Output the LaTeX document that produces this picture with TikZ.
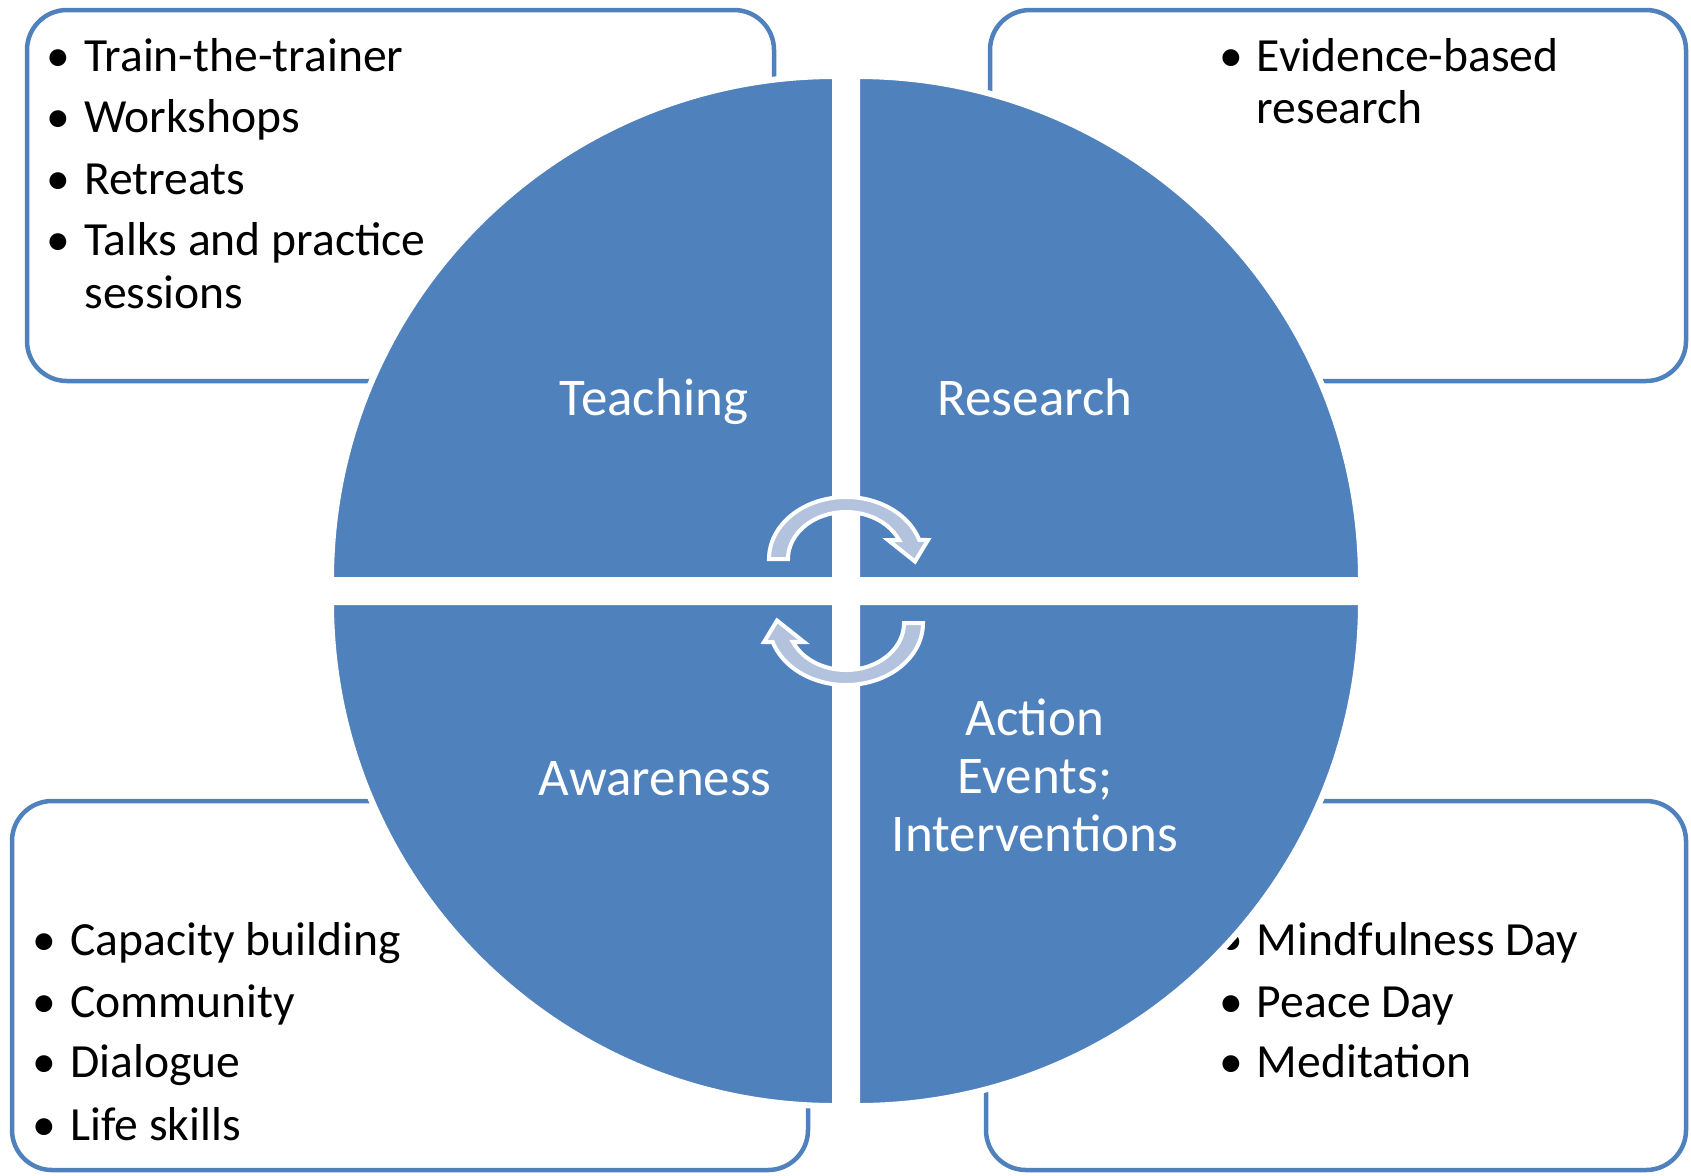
\documentclass[tikz,border=0pt]{standalone}
\usepackage{fontspec}
\setmainfont{Carlito}
\definecolor{pieblue}{HTML}{4F81BD}
\definecolor{arrowfill}{HTML}{B3C3DE}
\tikzset{
  box/.style={draw=pieblue, line width=2.25pt, fill=white, rounded corners=20pt},
  pie/.style={fill=pieblue, draw=white, line width=3pt},
  btxt/.style={anchor=base west, inner sep=0pt, text=black, font=\fontsize{23.8pt}{28pt}\selectfont},
  bdot/.style={anchor=base, inner sep=0pt, text=black, font=\fontsize{23.8pt}{28pt}\selectfont},
  lbl/.style={anchor=base, inner sep=0pt, text=white, font=\fontsize{26.5pt}{30pt}\selectfont},
  cyc/.style={fill=arrowfill, draw=white, line width=2pt, line join=miter}
}
\begin{document}
\begin{tikzpicture}[x=0.5pt,y=-0.5pt]
\useasboundingbox[fill=white] (0,0) rectangle (1691,1175);
% side boxes
\path[box] (27,10) rectangle (774,381);
\path[box] (990,10) rectangle (1686,381);
\path[box] (12,801) rectangle (808,1170);
\path[box] (986,801) rectangle (1686,1170);
% top-left list
\node[bdot] (tlb1) at (58,71.7) {•};
\node[btxt] (tlt1) at (84,71.7) {Train-the-trainer};
\node[bdot] (tlb2) at (58,132.7) {•};
\node[btxt] (tlt2) at (84,132.7) {Workshops};
\node[bdot] (tlb3) at (58,194.3) {•};
\node[btxt] (tlt3) at (84,194.3) {Retreats};
\node[bdot] (tlb4) at (58,255) {•};
\node[btxt] (tlt4) at (84,255) {Talks and practice};
\node[btxt] (tlt5) at (84,308.3) {sessions};
% top-right list
\node[bdot] (trb1) at (1231.5,71.7) {•};
\node[btxt] (trt1) at (1256.5,71.7) {Evidence-based};
\node[btxt] (trt2) at (1256.5,123.3) {research};
% bottom-left list
\node[bdot] (blb1) at (44,955) {•};
\node[btxt] (blt1) at (70,955) {Capacity building};
\node[bdot] (blb2) at (44,1017.3) {•};
\node[btxt] (blt2) at (70,1017.3) {Community};
\node[bdot] (blb3) at (44,1077.7) {•};
\node[btxt] (blt3) at (70,1077.7) {Dialogue};
\node[bdot] (blb4) at (44,1140) {•};
\node[btxt] (blt4) at (70,1140) {Life skills};
% bottom-right list
\node[bdot] (brb1) at (1231.5,955) {•};
\node[btxt] (brt1) at (1256.5,955) {Mindfulness Day};
\node[bdot] (brb2) at (1231.5,1017) {•};
\node[btxt] (brt2) at (1256.5,1017) {Peace Day};
\node[bdot] (brb3) at (1231.5,1077.7) {•};
\node[btxt] (brt3) at (1256.5,1077.7) {Meditation};
% pie quadrants
\path[pie] (835,580) -- (331,580) arc[start angle=180, end angle=270, radius=504] -- cycle;
\path[pie] (857,580) -- (857,76) arc[start angle=270, end angle=360, radius=504] -- cycle;
\path[pie] (835,602) -- (835,1106) arc[start angle=90, end angle=180, radius=504] -- cycle;
\path[pie] (857,602) -- (1361,602) arc[start angle=0, end angle=90, radius=504] -- cycle;
% labels
\node[lbl] (teach) at (654,415.7) {Teaching};
\node[lbl] (res) at (1035,415.7) {Research};
\node[lbl] (aware) at (655,795) {Awareness};
\node[lbl] (act1) at (1035,735) {Action};
\node[lbl] (act2) at (1035,793.3) {Events;};
\node[lbl] (act3) at (1035,851.7) {Interventions};
% cycle arrows
\path[cyc] (769,559) arc[start angle=180, end angle=342, x radius=77, y radius=62]
  -- (928,540) -- (915,561.5) -- (888,540) -- (899.08,540.03)
  arc[start angle=336.2, end angle=180, x radius=58, y radius=47] -- cycle;
\begin{scope}[rotate around={180:(846,591)}]
\path[cyc] (769,559) arc[start angle=180, end angle=342, x radius=77, y radius=62]
  -- (928,540) -- (915,561.5) -- (888,540) -- (899.08,540.03)
  arc[start angle=336.2, end angle=180, x radius=58, y radius=47] -- cycle;
\end{scope}
\end{tikzpicture}
\end{document}
